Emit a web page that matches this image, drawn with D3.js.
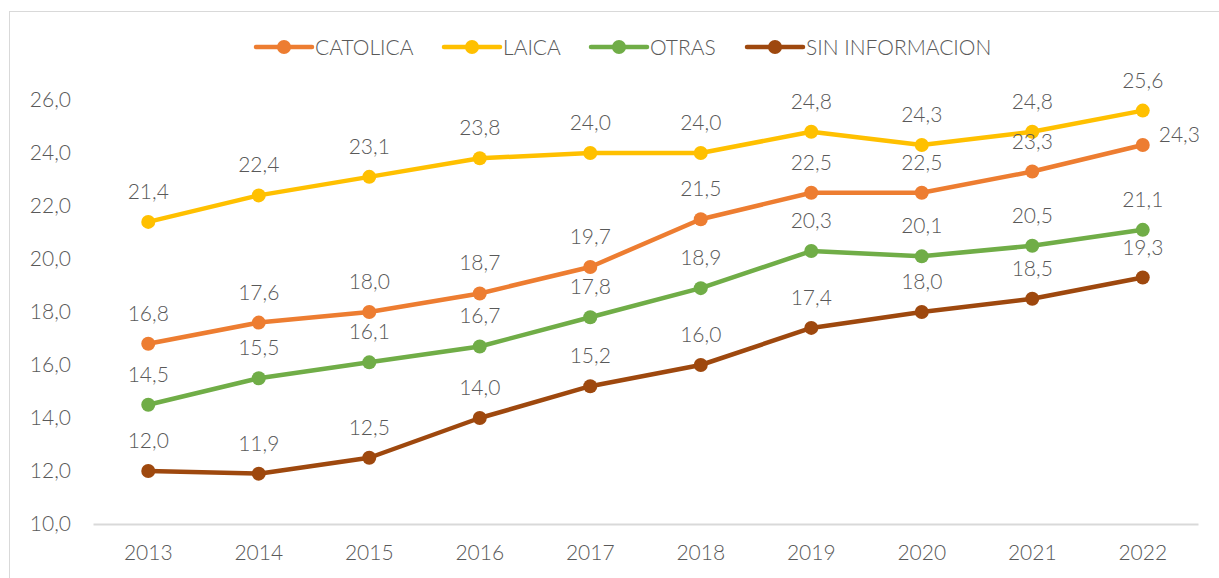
<!DOCTYPE html>
<html>
<head>
<meta charset="utf-8">
<script src="https://cdn.jsdelivr.net/npm/d3@7"></script>
<style>
  body { margin: 0; background: #fff; }
  svg { display: block; }
  text { font-family: Lato, "Open Sans", sans-serif; font-weight: 300; fill: #595959; }
</style>
</head>
<body>
<svg id="chart"></svg>
<script>
const years = ['2013','2014','2015','2016','2017','2018','2019','2020','2021','2022'];
const names = ['CATOLICA','LAICA','OTRAS','SIN INFORMACION'];
const catolica = [16.8, 17.6, 18.0, 18.7, 19.7, 21.5, 22.5, 22.5, 23.3, 24.3];
const laica    = [21.4, 22.4, 23.1, 23.8, 24.0, 24.0, 24.8, 24.3, 24.8, 25.6];
const otras    = [14.5, 15.5, 16.1, 16.7, 17.8, 18.9, 20.3, 20.1, 20.5, 21.1];
const sinInfo  = [12.0, 11.9, 12.5, 14.0, 15.2, 16.0, 17.4, 18.0, 18.5, 19.3];
const yTicks = [10, 12, 14, 16, 18, 20, 22, 24, 26];

const colors = ['#ED7D31', '#FFC000', '#70AD47', '#9E480E'];
const series = [catolica, laica, otras, sinInfo].map((v, i) => ({ name: names[i], values: v, color: colors[i] }));

const width = 1219, height = 578;
const margin = { top: 100, right: 21, bottom: 54, left: 93 };
const textColor = '#595959';

const svg = d3.select('#chart').attr('width', width).attr('height', height);

// chart border
svg.append('rect')
    .attr('x', 9.5).attr('y', 11.5)
    .attr('width', width + 10).attr('height', height + 10)
    .attr('fill', 'none').attr('stroke', '#d9d9d9').attr('stroke-width', 1);

const chart = svg.append('g').attr('transform', `translate(${margin.left}, ${margin.top})`);
const inner_width = width - margin.left - margin.right;
const inner_height = height - margin.top - margin.bottom;

const xscale = d3.scaleBand().domain(years).range([0, inner_width]);
const yscale = d3.scaleLinear().domain([10, 26]).range([inner_height, 0]);
const fmt = v => d3.format('.1f')(v).replace('.', ',');

// x axis
const xaxis = d3.axisBottom(xscale).tickSize(0).tickPadding(21);
const xg = chart.append('g').attr('transform', `translate(0, ${inner_height})`).call(xaxis);
xg.select('.domain').attr('stroke', '#d9d9d9').attr('stroke-width', 2);
xg.selectAll('text').style('font-size', '21px').style('font-family', null).attr('fill', textColor);

// y axis
const yaxis = d3.axisLeft(yscale).tickValues(yTicks).tickSize(0).tickPadding(22).tickFormat(fmt);
const yg = chart.append('g').call(yaxis);
yg.select('.domain').remove();
yg.selectAll('text').style('font-size', '21px').style('font-family', null).attr('fill', textColor);

const cx = (d, i) => xscale(years[i]) + xscale.bandwidth() / 2;
const line = d3.line().x(cx).y(d => yscale(d));

series.forEach(s => {
    const g = chart.append('g');
    g.append('path')
        .attr('d', line(s.values))
        .attr('fill', 'none')
        .attr('stroke', s.color)
        .attr('stroke-width', 4.5)
        .attr('stroke-linejoin', 'round');
    g.selectAll('circle')
        .data(s.values)
        .join('circle')
        .attr('cx', cx)
        .attr('cy', d => yscale(d))
        .attr('r', 7)
        .attr('fill', s.color);
});

// data labels (last CATOLICA label sits to the right of its point)
const isRight = (s, i) => s.name === 'CATOLICA' && i === 9;
series.forEach(s => {
    chart.append('g').selectAll('text')
        .data(s.values)
        .join('text')
        .attr('x', (d, i) => isRight(s, i) ? cx(d, i) + 16 : cx(d, i))
        .attr('y', (d, i) => isRight(s, i) ? yscale(d) - 3 : yscale(d) - 23)
        .attr('text-anchor', (d, i) => isRight(s, i) ? 'start' : 'middle')
        .attr('fill', textColor)
        .style('font-size', '21px')
        .text(d => fmt(d));
});

// legend
const legendX = [256, 444, 591, 747];
const legend = svg.append('g');
series.forEach((s, i) => {
    const lg = legend.append('g').attr('transform', `translate(${legendX[i]}, 47)`);
    lg.append('line').attr('x1', 0).attr('x2', 56).attr('y1', 0).attr('y2', 0)
        .attr('stroke', s.color).attr('stroke-width', 4.5).attr('stroke-linecap', 'round');
    lg.append('circle').attr('cx', 28).attr('cy', 0).attr('r', 7).attr('fill', s.color);
    lg.append('text').attr('x', 59).attr('y', 7.5).attr('fill', textColor)
        .style('font-size', '21px').text(s.name);
});
</script>
</body>
</html>
